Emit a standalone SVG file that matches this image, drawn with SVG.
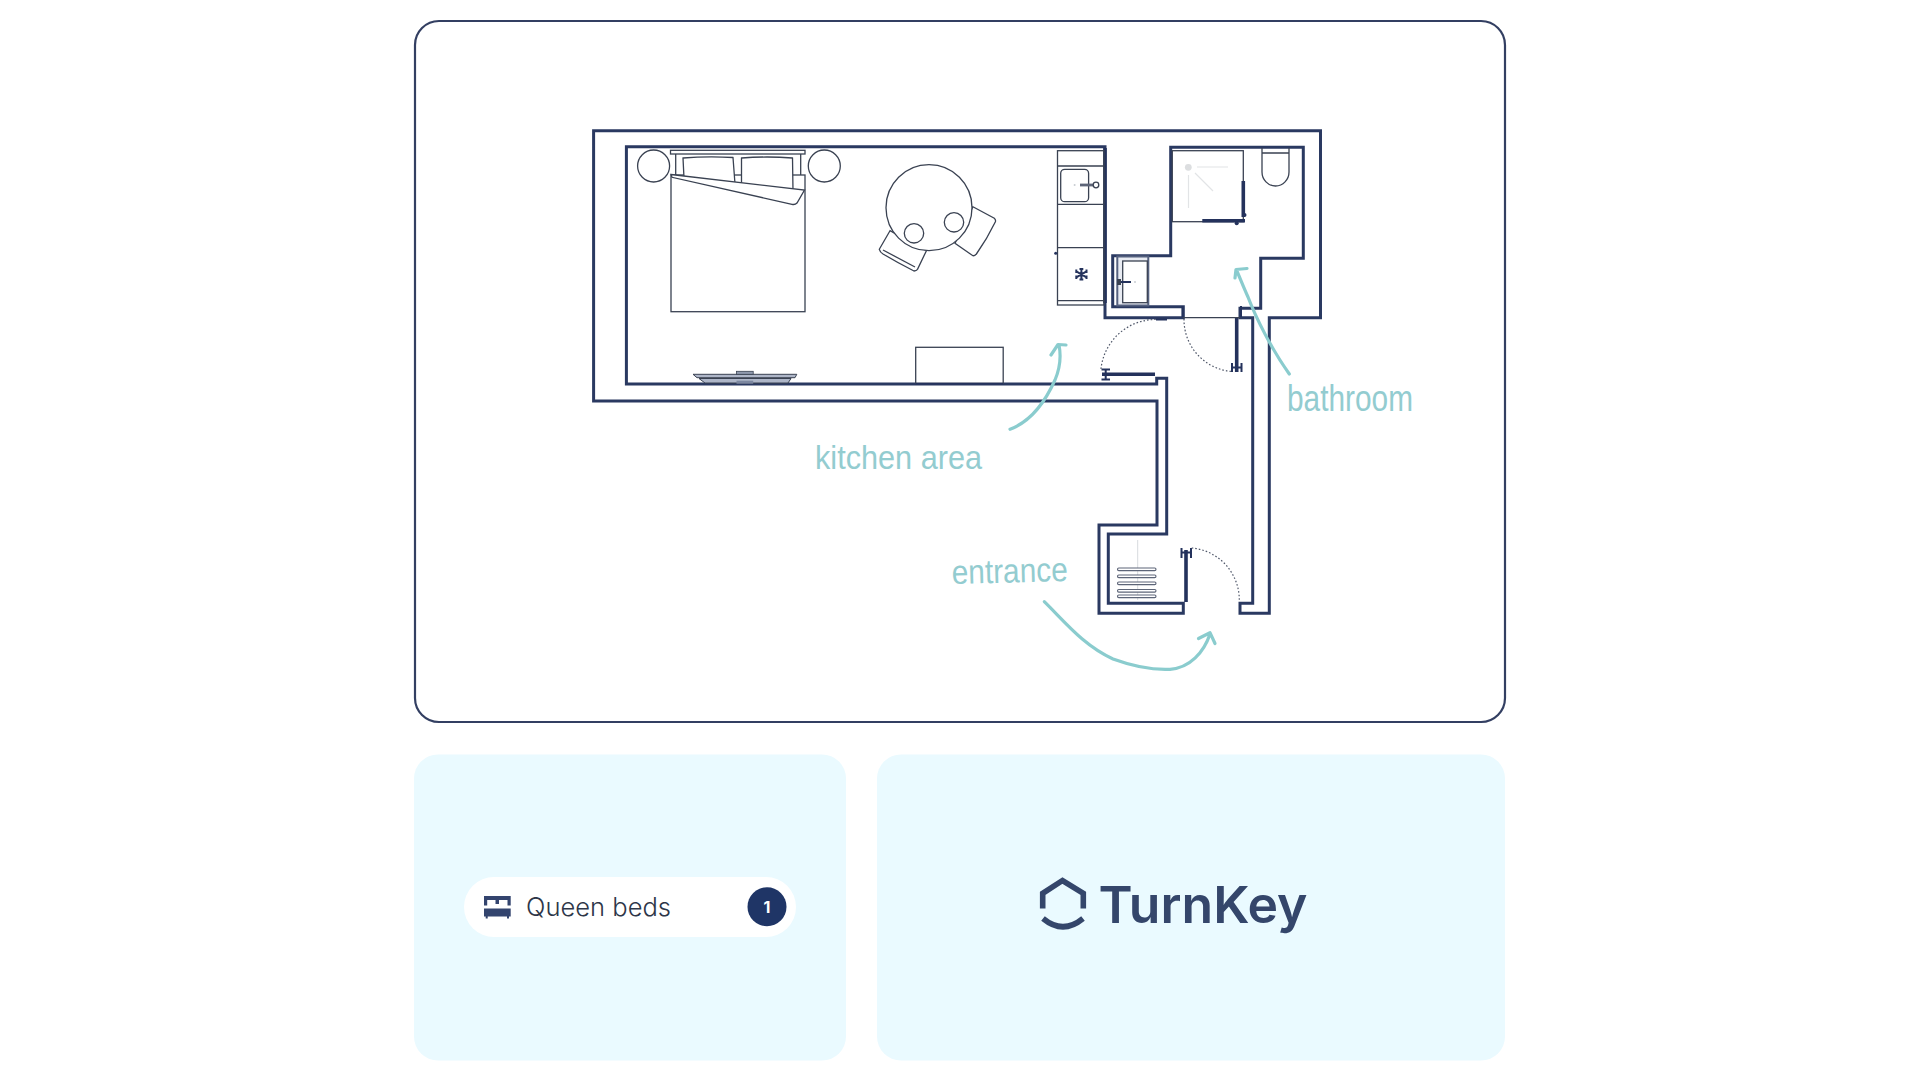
<svg xmlns="http://www.w3.org/2000/svg" width="1920" height="1080" viewBox="0 0 1920 1080">
<style>
.wall{fill:#fff;stroke:#2a3961;stroke-width:3;stroke-linejoin:miter}
.thin{fill:#fff;stroke:#3a4252;stroke-width:1.3}
.nf{fill:none;stroke:#3a4252;stroke-width:1.3}
.dark{fill:none;stroke:#24325c;stroke-width:3.6}
.med{fill:none;stroke:#24325c;stroke-width:2}
.dot{fill:none;stroke:#50586a;stroke-width:1.2;stroke-dasharray:1.6 2}
.pale{fill:none;stroke:#e2e4e6;stroke-width:1.2}
.arrow{fill:none;stroke:#8accce;stroke-width:3.2;stroke-linecap:round;stroke-linejoin:round}
.hand{font-family:"Liberation Sans Narrow","Liberation Sans",sans-serif;font-size:34px;fill:#93ccd0}
.rack{fill:#fff;stroke:#5d6578;stroke-width:1.1}
</style>
<rect width="1920" height="1080" fill="#fff"/>
<rect id="plan-card" x="415" y="21" width="1090" height="701" rx="24" fill="#fff" stroke="#333f62" stroke-width="2.200"/>
<rect id="beds-card" x="414" y="754.500" width="432" height="306" rx="24" fill="#eafaff"/>
<rect id="logo-card" x="877" y="754.500" width="628" height="306" rx="24" fill="#eafaff"/>

<g id="walls">
<path class="wall" d="M1240,603.300V613.300H1269.300V317.700H1320.500V130.700H593.600V401H1157V525H1099V613.300H1183.300V603.300H1108.300V534H1166.700V378.300H1156.700V384H626.400V146.700H1105V317.700H1183.300V306.700H1112.700V255.700H1170.700V147.300H1303.300V258.300H1260.700V308.300H1240V317.700H1252.700V603.300Z"/>
<path class="dark" d="M1105,148V303"/>
<path class="med" stroke-width="3" d="M1182.500,306V317M1241,306V317M1156,319.500H1167"/>
</g>

<g id="bed">
<circle class="thin" cx="653.600" cy="166" r="16"/>
<circle class="thin" cx="824.300" cy="166" r="16"/>
<rect class="thin" x="670.500" y="150.300" width="134.500" height="3.700"/>
<path class="nf" d="M675.700,154V177M800.700,154V190"/>
<rect class="thin" x="671" y="175" width="134" height="136.700"/>
<path class="thin" d="M683,158Q708,156 733,157.500L735,184L684,178ZM741.500,158Q767,156 792.500,158L793,191L741.500,186Z"/>
<path class="thin" stroke-width="1.6" d="M671,174.500L804.500,190L797,203Q795,205 792,204.300L672,177.300Z"/>
</g>

<g id="table">
<path class="thin" d="M890,230.700L879.300,249.300Q880,252 883,254Q898,263 914,271Q916.500,270.500 917.500,269.300L926.400,250.700Z"/>
<path class="nf" stroke="#c6cad0" stroke-width=".8" d="M883,250L915,267"/>
<path class="thin" d="M972.900,206.700L994.300,218.300Q996,220 995.400,221.700Q987,239 976.400,254Q974.500,256 972.900,255.700L955,243.300Z"/>
<circle class="thin" cx="929" cy="207.700" r="43"/>
<circle class="nf" stroke-width="1" cx="914" cy="233.300" r="9.700"/>
<circle class="nf" stroke-width="1" cx="954" cy="222.300" r="9.700"/>
</g>

<g id="kitchen">
<rect class="nf" x="1057.500" y="150.700" width="46.500" height="154.300"/>
<path class="nf" d="M1057.500,166H1104M1057.500,204.300H1104M1057.500,247.700H1104M1057.500,300.700H1104"/>
<rect class="nf" x="1060.700" y="169.300" width="27.900" height="32.400" rx="4"/>
<path d="M1080,185H1093" stroke="#5d6578" stroke-width="2.800" fill="none"/>
<circle class="thin" cx="1096" cy="185" r="2.800"/>
<circle cx="1074.600" cy="185" r="1" fill="#c8ccd2"/>
<circle cx="1055.700" cy="253.300" r="1.500" fill="#24325c"/>
<path class="med" stroke-width="1.300" d="M1081.400,268.500V280M1076.300,271.300L1086.500,277.300M1076.300,277.300L1086.500,271.300M1079.500,269L1083.300,269M1079.500,279.500L1083.300,279.500M1076.300,269.500V273M1086.500,269.500V273M1076.300,275.500V279M1086.500,275.500V279"/>
</g>

<g id="tv-desk">
<rect class="thin" x="915.700" y="347.300" width="87.500" height="36"/>
<path d="M915.700,383.500H1003.200" stroke="#24325c" stroke-width="1.600"/>
<path d="M693,374.300H796.800L795,377.700H697ZM699,378.500H791L788,383H705Z" fill="#aeb6c8" stroke="#3a4252" stroke-width="1"/>
<rect x="736.500" y="371.300" width="16.700" height="3" fill="#8f99ad" stroke="#3a4252" stroke-width=".8"/>
<rect x="736.500" y="380.700" width="16.700" height="3" fill="#7c87a0"/>
</g>

<g id="doors">
<path class="dark" d="M1102,374.300H1155"/>
<path class="med" d="M1101.500,369.500H1110M1101.500,379.500H1110M1105.700,369V380"/>
<path class="dot" d="M1101,369A55,55 0 0 1 1156,319.500"/>
<path class="dark" d="M1236.700,318V372"/>
<path class="med" d="M1232,363V372M1241.500,363V372M1232,367.500H1242"/>
<path class="dot" d="M1184,319A52,52 0 0 0 1231.700,371.500"/>
<path class="dark" d="M1186,550V602"/>
<path class="med" d="M1181.500,548V558M1191,548V558M1181.500,552.500H1191.500"/>
<path class="dot" d="M1191.700,548A52,52 0 0 1 1239.300,600"/>
<path d="M1183,317.700H1240" stroke="#3a4252" stroke-width="1.200"/>
</g>

<g id="bathroom">
<rect class="thin" x="1172.300" y="150.700" width="71" height="71"/>
<path class="pale" d="M1197,167H1228M1188.500,175V208M1195,173L1213,191"/>
<circle cx="1188.300" cy="167.300" r="3.400" fill="#dcdee0"/>
<path class="dark" d="M1243.300,181V217M1202.300,220.700H1245"/>
<circle cx="1244.500" cy="215" r="2" fill="#24325c"/><circle cx="1236.700" cy="223.300" r="2" fill="#24325c"/>
<path class="nf" d="M1262,148V172A13.500,14 0 0 0 1289,172V148M1262,153H1289"/>
<rect x="1117.300" y="256.500" width="31" height="49" fill="#e9ecf3" stroke="#55617f" stroke-width="2"/>
<rect class="thin" x="1122.700" y="261" width="24.600" height="41.700"/>
<path d="M1118,282H1131" stroke="#24325c" stroke-width="2"/>
<rect x="1117" y="279" width="4" height="6" fill="#3a4252"/>
<circle cx="1135" cy="282" r="1" fill="#c8ccd2"/>
</g>

<g id="closet">
<path d="M1137.700,540V600" stroke="#d7dade" stroke-width="1"/>
<rect class="rack" x="1117.500" y="568" width="38.500" height="2.600" rx="1.300"/>
<rect class="rack" x="1117.500" y="575" width="38.500" height="2.600" rx="1.300"/>
<rect class="rack" x="1117.500" y="582" width="38.500" height="2.600" rx="1.300"/>
<rect class="rack" x="1117.500" y="589.500" width="38.500" height="2.600" rx="1.300"/>
<rect class="rack" x="1117.500" y="595" width="38.500" height="2.600" rx="1.300"/>
</g>

<g id="connectors">
<path class="arrow" d="M1010,429.300C1032,421 1046,400 1055,380C1060,368 1061,355 1059,345M1051,355L1058,344.500L1066,345"/>
<path class="arrow" d="M1289.300,374C1272,350 1256,318 1248,297C1243,286 1240,278 1236.700,270.500M1235,278L1236,269.500L1247,268.500"/>
<path class="arrow" d="M1044.300,601.700C1065,622 1083,645 1113,659C1135,667 1155,670 1170,669.300C1190,668 1204,652 1210,634M1198.500,638.500L1210,632.700L1215,643.500"/>
</g>

<g id="labels">
<text class="hand" x="815" y="469" textLength="167" lengthAdjust="spacingAndGlyphs">kitchen area</text>
<text class="hand" x="952" y="584" textLength="116" lengthAdjust="spacingAndGlyphs" transform="rotate(-1.500 952 584)">entrance</text>
<text class="hand" x="1287" y="411" font-size="36" style="font-size:36px" textLength="126" lengthAdjust="spacingAndGlyphs">bathroom</text>
</g>

<g id="beds-pill">
<rect x="464" y="877" width="332" height="60" rx="30" fill="#fff"/>
<path d="M484,896H510.700V905.500H507.500V900H499V904H495.500V900H487.200V905.500H484ZM484,908.500H510.700V916.500H509V918.500H507V916.500H487.700V918.500H485.700V916.500H484Z" fill="#33446e"/>
<text x="526" y="916" font-family="Inter,'Liberation Sans',sans-serif" font-size="25.500" font-weight="300" fill="#2d3648" textLength="145" lengthAdjust="spacingAndGlyphs">Queen beds</text>
<circle cx="767" cy="906.700" r="19.500" fill="#1f3566"/>
<text x="767" y="912.500" font-family="Inter,'Liberation Sans',sans-serif" font-size="16" font-weight="700" fill="#fff" text-anchor="middle">1</text>
</g>

<g id="logo">
<path d="M1042.700,908.500V893.300L1062.500,880.500L1083.300,893.300V908.500M1043,918.500Q1063,935 1083,918.500" fill="none" stroke="#34466b" stroke-width="5.600"/>
<text x="1098.500" y="923.300" font-family="Inter,'Liberation Sans',sans-serif" font-size="51" font-weight="600" fill="#34466b" textLength="209" lengthAdjust="spacingAndGlyphs">TurnKey</text>
</g>
</svg>
